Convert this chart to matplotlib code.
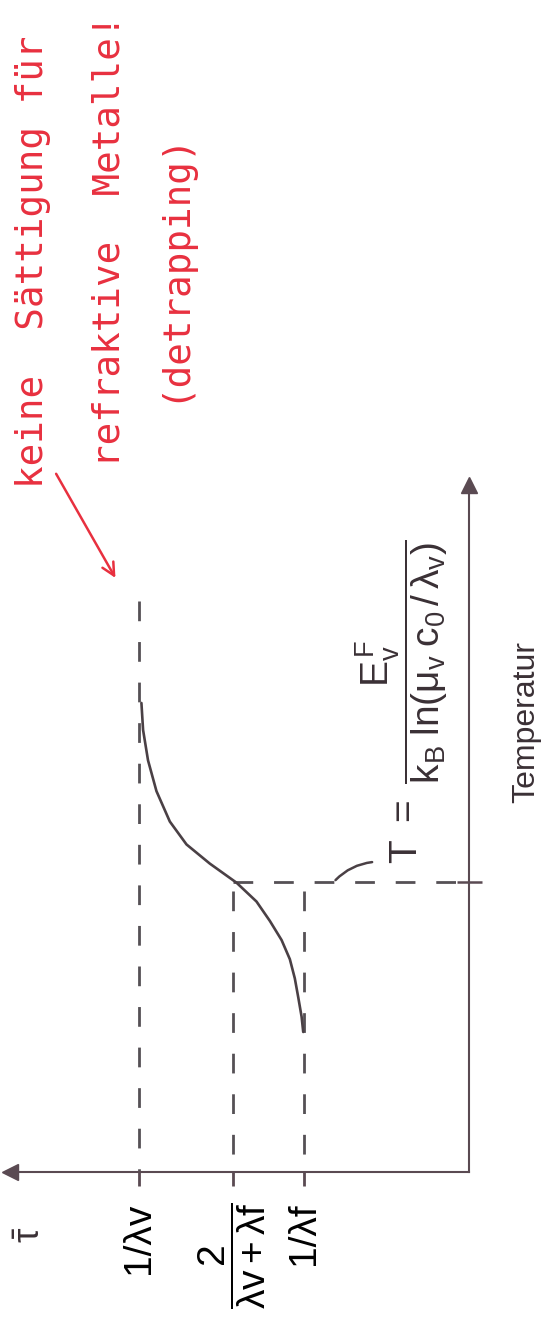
import numpy as np
import matplotlib
matplotlib.use("Agg")
import matplotlib.pyplot as plt

# ---------------
# Values
# tau in units of 1/lambda_f, T in units of T*
# ---------------
tau_ticks = [2.0, 1.43, 1.0]
tau_labels = ['1/λv', r'$\dfrac{2}{λv+λf}$', '1/λf']
dash_tops = [1.97, 0.97, 0.97]
T_star = 1.0

curve_tau = [1.984, 1.974, 1.944, 1.893, 1.812, 1.711, 1.570, 1.408,
             1.287, 1.206, 1.135, 1.085, 1.055, 1.034, 1.014, 1.004]
curve_T = [1.618, 1.525, 1.420, 1.314, 1.209, 1.130, 1.064, 0.998,
           0.933, 0.866, 0.800, 0.734, 0.668, 0.602, 0.536, 0.483]

formula = r'$T\ =\ \dfrac{E_v^F}{k_B\;\mathrm{ln}(μ_v\;c_0\,/\,λ_v)}$'
note_lines = ['keine  Sättigung für', 'refraktive  Metalle!', '(detrapping)']

# ---------------
# Style
# ---------------
plt.rcParams['font.family'] = ['Liberation Sans', 'DejaVu Sans']
plt.rcParams['mathtext.fontset'] = 'custom'
plt.rcParams['mathtext.rm'] = 'Liberation Sans'
plt.rcParams['mathtext.it'] = 'Liberation Sans'
plt.rcParams['mathtext.bf'] = 'Liberation Sans'

ax_col = '#5a4a52'
line_col = '#4a4045'
dash_col = '#555055'
red = '#e8303f'
dash = (0, (7.1, 7.5))

fig = plt.figure(figsize=(5.46, 13.22), dpi=100)
ax = fig.add_axes([10/546, 150/1322, 459/546, 687/1322])
ax.set_xlim(2.78, 0)
ax.set_ylim(0, 2.37)

for s in ['top', 'left']:
    ax.spines[s].set_visible(False)
for s in ['bottom', 'right']:
    ax.spines[s].set_color(ax_col)
    ax.spines[s].set_linewidth(1.5)

# arrow heads on the axes
ax.plot(0, 0, marker='<', ms=11, color=ax_col, transform=ax.transAxes, clip_on=False)
ax.plot(1, 1, marker='^', ms=11, color=ax_col, transform=ax.transAxes, clip_on=False)

ax.set_xticks(tau_ticks)
ax.set_xticklabels(tau_labels, rotation=90, fontsize=28, va='top')
ax.tick_params(axis='x', direction='out', length=10, width=2, color=ax_col, pad=12)
ax.yaxis.tick_right()
ax.set_yticks([T_star])
ax.set_yticklabels([''])
ax.tick_params(axis='y', direction='inout', length=18, width=1.8, color=ax_col)

# dashed guide lines
for t, top in zip(tau_ticks, dash_tops):
    ax.plot([t, t], [top, 0], color=dash_col, lw=2, linestyle=dash)
ax.plot([tau_ticks[1], 0], [T_star, T_star], color=dash_col, lw=2, linestyle=dash)

# the curve
ax.plot(curve_tau, curve_T, color=line_col, lw=1.9, solid_capstyle='round')

# formula for T*
ax.text(0.41, 1.62, formula, rotation=90, ha='center', va='center', fontsize=28, color='#3a3035')
ax.annotate('', xy=(0.82, T_star), xytext=(0.57, 1.07),
            arrowprops=dict(arrowstyle='-', color=line_col, lw=1.8,
                            connectionstyle='arc3,rad=0.2'))

# axis labels
fig.text(31/546, 1 - 1235/1322, r'$\bar{τ}$', rotation=90, ha='center', va='center',
         fontsize=26, color='#3a3035')
fig.text(526/546, 1 - 722/1322, 'Temperatur', rotation=90, ha='center', va='center',
         fontsize=23, color='#3a3035')

# red handwritten note
for xc, yc, txt in zip([33, 110, 173], [262, 241, 266], note_lines):
    fig.text(xc/546, 1 - yc/1322, txt, rotation=90, ha='center', va='center',
             fontsize=27, color=red, family=['DejaVu Sans Mono'])
ax.annotate('', xy=(2.133, 2.041), xytext=(2.509, 2.417),
            arrowprops=dict(arrowstyle='->,head_length=0.9,head_width=0.45',
                            color=red, lw=1.8), annotation_clip=False)

plt.savefig('out.png', dpi=100)
